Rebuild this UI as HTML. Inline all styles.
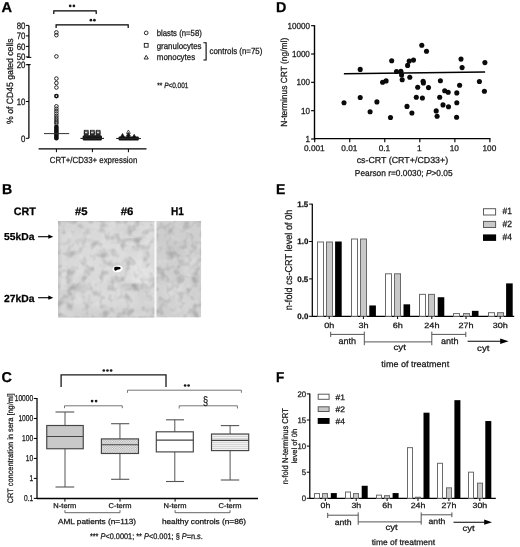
<!DOCTYPE html>
<html><head><meta charset="utf-8"><style>
html,body{margin:0;padding:0;background:#fff;width:520px;height:547px;overflow:hidden}
svg{display:block;font-family:"Liberation Sans", sans-serif;filter:blur(0.35px);text-rendering:geometricPrecision}
</style></head><body>
<svg width="520" height="547" viewBox="0 0 520 547">
<rect width="520" height="547" fill="#fff"/>
<defs>
<filter id="blur1" x="-100%" y="-100%" width="300%" height="300%"><feGaussianBlur stdDeviation="3.5"/></filter>
<filter id="blur2" x="-50%" y="-50%" width="200%" height="200%"><feGaussianBlur stdDeviation="1.2"/></filter>
<filter id="noise" x="0" y="0" width="100%" height="100%"><feTurbulence type="fractalNoise" baseFrequency="0.12" numOctaves="2" seed="7" result="n"/><feColorMatrix in="n" type="matrix" values="0 0 0 0 0  0 0 0 0 0  0 0 0 0 0  0 0 0 -0.9 0.48"/></filter>
<filter id="noise2" x="0" y="0" width="100%" height="100%"><feTurbulence type="fractalNoise" baseFrequency="0.12" numOctaves="2" seed="3" result="n"/><feColorMatrix in="n" type="matrix" values="0 0 0 0 1  0 0 0 0 1  0 0 0 0 1  0 0 0 0.9 -0.42"/></filter>
<clipPath id="cl1"><rect x="58" y="221" width="96.8" height="96.6"/></clipPath>
<clipPath id="cl2"><rect x="156.2" y="221" width="45" height="96.6"/></clipPath>
<pattern id="xh" x="101.4" y="438.9" width="2.3" height="2.3" patternUnits="userSpaceOnUse"><rect width="2.3" height="2.3" fill="#f4f4f4"/><rect width="1.15" height="1.15" fill="#aaaaaa"/><rect x="1.15" y="1.15" width="1.15" height="1.15" fill="#aaaaaa"/></pattern>
<pattern id="hl" width="4" height="2" patternUnits="userSpaceOnUse"><rect width="4" height="2" fill="#f2f2f2"/><rect width="4" height="0.8" fill="#cfcfcf"/></pattern>
</defs>
<text transform="translate(1.53,12.00) scale(1.023,1)" font-size="14.30" font-weight="bold" fill="#000" stroke="#000" stroke-width="0.25">A</text>
<text transform="translate(1.98,193.80) scale(0.986,1)" font-size="14.30" font-weight="bold" fill="#000" stroke="#000" stroke-width="0.25">B</text>
<text transform="translate(1.53,382.40) scale(1.004,1)" font-size="14.30" font-weight="bold" fill="#000" stroke="#000" stroke-width="0.25">C</text>
<text transform="translate(276.07,11.90) scale(1.001,1)" font-size="14.30" font-weight="bold" fill="#000" stroke="#000" stroke-width="0.25">D</text>
<text transform="translate(276.09,193.80) scale(0.978,1)" font-size="14.30" font-weight="bold" fill="#000" stroke="#000" stroke-width="0.25">E</text>
<text transform="translate(276.12,382.40) scale(0.946,1)" font-size="14.30" font-weight="bold" fill="#000" stroke="#000" stroke-width="0.25">F</text>
<line x1="28.9" y1="25.4" x2="28.9" y2="57.4" stroke="#000" stroke-width="1.25"/>
<line x1="28.9" y1="64.6" x2="28.9" y2="138.3" stroke="#000" stroke-width="1.25"/>
<line x1="25.9" y1="25.4" x2="28.9" y2="25.4" stroke="#000" stroke-width="1"/>
<text transform="translate(16.65,28.60) scale(0.847,1)" font-size="9.29" font-weight="normal" fill="#161616" stroke="#161616" stroke-width="0.25">80</text>
<line x1="25.9" y1="35.9" x2="28.9" y2="35.9" stroke="#000" stroke-width="1"/>
<text transform="translate(16.65,39.10) scale(0.847,1)" font-size="9.29" font-weight="normal" fill="#161616" stroke="#161616" stroke-width="0.25">70</text>
<line x1="25.9" y1="46.4" x2="28.9" y2="46.4" stroke="#000" stroke-width="1"/>
<text transform="translate(16.65,49.60) scale(0.847,1)" font-size="9.29" font-weight="normal" fill="#161616" stroke="#161616" stroke-width="0.25">60</text>
<line x1="25.9" y1="56.9" x2="28.9" y2="56.9" stroke="#000" stroke-width="1"/>
<text transform="translate(16.65,60.10) scale(0.847,1)" font-size="9.29" font-weight="normal" fill="#161616" stroke="#161616" stroke-width="0.25">50</text>
<line x1="25.9" y1="64.7" x2="28.9" y2="64.7" stroke="#000" stroke-width="1"/>
<text transform="translate(16.65,67.90) scale(0.847,1)" font-size="9.29" font-weight="normal" fill="#161616" stroke="#161616" stroke-width="0.25">20</text>
<line x1="25.9" y1="101.5" x2="28.9" y2="101.5" stroke="#000" stroke-width="1"/>
<text transform="translate(16.65,104.70) scale(0.847,1)" font-size="9.29" font-weight="normal" fill="#161616" stroke="#161616" stroke-width="0.25">10</text>
<line x1="25.9" y1="138.3" x2="28.9" y2="138.3" stroke="#000" stroke-width="1"/>
<text transform="translate(21.01,141.50) scale(0.847,1)" font-size="9.29" font-weight="normal" fill="#161616" stroke="#161616" stroke-width="0.25">0</text>
<line x1="27.099999999999998" y1="57.4" x2="31.299999999999997" y2="57.4" stroke="#000" stroke-width="1"/>
<line x1="27.099999999999998" y1="64.6" x2="30.7" y2="64.6" stroke="#000" stroke-width="1"/>
<text transform="translate(12.90,123.90) rotate(-90) scale(0.950,1)" font-size="9.10" font-weight="normal" fill="#161616" stroke="#161616" stroke-width="0.25">% of CD45 gated cells</text>
<line x1="38.6" y1="148.85" x2="146.5" y2="148.85" stroke="#000" stroke-width="1.35"/>
<line x1="56.4" y1="149" x2="56.4" y2="152.2" stroke="#000" stroke-width="1"/>
<line x1="92.4" y1="149" x2="92.4" y2="152.2" stroke="#000" stroke-width="1"/>
<line x1="128.4" y1="149" x2="128.4" y2="152.2" stroke="#000" stroke-width="1"/>
<text transform="translate(49.71,162.90) scale(0.896,1)" font-size="8.77" font-weight="normal" fill="#161616" stroke="#161616" stroke-width="0.25">CRT+/CD33+ expression</text>
<path d="M53.8,14.0 V10.9 H96.2 V14.0" stroke="#000" stroke-width="1.2" fill="none"/>
<circle cx="70.20" cy="5.9" r="1.35" fill="#1a1a1a"/>
<circle cx="73.90" cy="5.9" r="1.35" fill="#1a1a1a"/>
<path d="M56.1,28.0 V24.9 H128.2 V28.0" stroke="#000" stroke-width="1.2" fill="none"/>
<circle cx="90.90" cy="20.2" r="1.35" fill="#1a1a1a"/>
<circle cx="94.40" cy="20.2" r="1.35" fill="#1a1a1a"/>
<circle cx="56.4" cy="32.4" r="1.8" fill="none" stroke="#1e1e1e" stroke-width="0.95"/>
<circle cx="56.4" cy="35.2" r="1.8" fill="none" stroke="#1e1e1e" stroke-width="0.95"/>
<circle cx="56.4" cy="56.4" r="1.8" fill="none" stroke="#1e1e1e" stroke-width="0.95"/>
<circle cx="56.4" cy="78.6" r="1.8" fill="none" stroke="#1e1e1e" stroke-width="0.95"/>
<circle cx="56.4" cy="83.0" r="1.8" fill="none" stroke="#1e1e1e" stroke-width="0.95"/>
<circle cx="56.4" cy="87.5" r="1.8" fill="none" stroke="#1e1e1e" stroke-width="0.95"/>
<circle cx="56.4" cy="106.3" r="1.8" fill="none" stroke="#1e1e1e" stroke-width="0.95"/>
<circle cx="56.4" cy="108.8" r="1.8" fill="none" stroke="#1e1e1e" stroke-width="0.95"/>
<circle cx="56.4" cy="111.2" r="1.8" fill="none" stroke="#1e1e1e" stroke-width="0.95"/>
<circle cx="56.4" cy="113.6" r="1.8" fill="none" stroke="#1e1e1e" stroke-width="0.95"/>
<circle cx="56.4" cy="116.0" r="1.8" fill="none" stroke="#1e1e1e" stroke-width="0.95"/>
<circle cx="56.4" cy="118.2" r="1.8" fill="none" stroke="#1e1e1e" stroke-width="0.95"/>
<circle cx="56.4" cy="120.2" r="1.8" fill="none" stroke="#1e1e1e" stroke-width="0.95"/>
<circle cx="56.4" cy="122.0" r="1.8" fill="none" stroke="#1e1e1e" stroke-width="0.95"/>
<circle cx="56.4" cy="123.6" r="1.8" fill="none" stroke="#1e1e1e" stroke-width="0.95"/>
<circle cx="56.4" cy="96.1" r="1.6" fill="none" stroke="#111" stroke-width="1.6"/>
<rect x="54.1" y="124.5" width="4.6" height="16" fill="#111" stroke="none" stroke-width="0" rx="2.2"/>
<line x1="44" y1="133.6" x2="69.2" y2="133.6" stroke="#333" stroke-width="1"/>
<rect x="84.3" y="130.3" width="3.8" height="3.6" fill="none" stroke="#1a1a1a" stroke-width="0.85"/>
<rect x="84.3" y="131.8" width="3.8" height="3.6" fill="none" stroke="#1a1a1a" stroke-width="0.85"/>
<rect x="90.39999999999999" y="130.3" width="3.8" height="3.6" fill="none" stroke="#1a1a1a" stroke-width="0.85"/>
<rect x="90.39999999999999" y="131.8" width="3.8" height="3.6" fill="none" stroke="#1a1a1a" stroke-width="0.85"/>
<rect x="96.19999999999999" y="130.3" width="3.8" height="3.6" fill="none" stroke="#1a1a1a" stroke-width="0.85"/>
<rect x="96.19999999999999" y="131.8" width="3.8" height="3.6" fill="none" stroke="#1a1a1a" stroke-width="0.85"/>
<rect x="82.6" y="135.2" width="19.4" height="5.2" fill="#161616" stroke="none" stroke-width="0" rx="1.5"/>
<rect x="84.3" y="133.6" width="3.8" height="3.0" fill="#262626" stroke="none" stroke-width="0"/>
<rect x="90.39999999999999" y="133.6" width="3.8" height="3.0" fill="#262626" stroke="none" stroke-width="0"/>
<rect x="96.19999999999999" y="133.6" width="3.8" height="3.0" fill="#262626" stroke="none" stroke-width="0"/>
<line x1="80.4" y1="138.4" x2="104.0" y2="138.4" stroke="#222" stroke-width="1.1"/>
<path d="M126.5,133.41 L128.4,129.98999999999998 L130.3,133.41 Z" fill="none" stroke="#111" stroke-width="0.7"/>
<path d="M126.5,135.91 L128.4,132.48999999999998 L130.3,135.91 Z" fill="#333" stroke="#111" stroke-width="0.7"/>
<path d="M120.2,137.67 L122.5,133.53 L124.8,137.67 Z" fill="#111" stroke="#111" stroke-width="0.7"/>
<path d="M131.89999999999998,138.47 L134.2,134.33 L136.5,138.47 Z" fill="#111" stroke="#111" stroke-width="0.7"/>
<path d="M126.10000000000001,138.26999999999998 L128.4,134.13 L130.70000000000002,138.26999999999998 Z" fill="#111" stroke="#111" stroke-width="0.7"/>
<rect x="118.6" y="136.6" width="20.2" height="3.9" fill="#121212" stroke="none" stroke-width="0" rx="1"/>
<line x1="116.2" y1="138.5" x2="140.9" y2="138.5" stroke="#222" stroke-width="1.1"/>
<circle cx="146.2" cy="32.9" r="1.85" fill="none" stroke="#1a1a1a" stroke-width="0.9"/>
<rect x="144.3" y="43.4" width="3.8" height="3.8" fill="none" stroke="#1a1a1a" stroke-width="0.9"/>
<path d="M144.1,59.0 L146.2,55.3 L148.3,59.0 Z" fill="none" stroke="#1a1a1a" stroke-width="0.9"/>
<text transform="translate(156.75,35.65) scale(0.881,1)" font-size="8.80" font-weight="normal" fill="#161616" stroke="#161616" stroke-width="0.25">blasts (n=58)</text>
<text transform="translate(156.68,48.60) scale(0.898,1)" font-size="8.80" font-weight="normal" fill="#161616" stroke="#161616" stroke-width="0.25">granulocytes</text>
<text transform="translate(156.78,59.70) scale(0.902,1)" font-size="8.80" font-weight="normal" fill="#161616" stroke="#161616" stroke-width="0.25">monocytes</text>
<path d="M203.4,42.7 H206.1 V60.0 H203.4" stroke="#000" stroke-width="1.1" fill="none"/>
<text transform="translate(209.43,53.70) scale(0.899,1)" font-size="8.80" font-weight="normal" fill="#161616" stroke="#161616" stroke-width="0.25">controls (n=75)</text>
<text transform="translate(157.30,87.70) scale(0.829,1)" font-size="7.80" font-weight="normal" fill="#161616" stroke="#161616" stroke-width="0.25">** <tspan font-style="italic">P</tspan>&lt;0.001</text>
<line x1="314.5" y1="25.2" x2="314.5" y2="139.4" stroke="#000" stroke-width="1.4"/>
<line x1="311.1" y1="139.0" x2="314.5" y2="139.0" stroke="#000" stroke-width="1.15"/>
<text transform="translate(305.47,142.10) scale(0.921,1)" font-size="8.79" font-weight="normal" fill="#161616" stroke="#161616" stroke-width="0.25">1</text>
<line x1="311.1" y1="110.67" x2="314.5" y2="110.67" stroke="#000" stroke-width="1.15"/>
<text transform="translate(300.90,113.77) scale(0.921,1)" font-size="8.79" font-weight="normal" fill="#161616" stroke="#161616" stroke-width="0.25">10</text>
<line x1="311.1" y1="82.34" x2="314.5" y2="82.34" stroke="#000" stroke-width="1.15"/>
<text transform="translate(296.41,85.44) scale(0.921,1)" font-size="8.79" font-weight="normal" fill="#161616" stroke="#161616" stroke-width="0.25">100</text>
<line x1="311.1" y1="54.010000000000005" x2="314.5" y2="54.010000000000005" stroke="#000" stroke-width="1.15"/>
<text transform="translate(291.88,57.11) scale(0.921,1)" font-size="8.79" font-weight="normal" fill="#161616" stroke="#161616" stroke-width="0.25">1000</text>
<line x1="311.1" y1="25.680000000000007" x2="314.5" y2="25.680000000000007" stroke="#000" stroke-width="1.15"/>
<text transform="translate(287.39,28.78) scale(0.921,1)" font-size="8.79" font-weight="normal" fill="#161616" stroke="#161616" stroke-width="0.25">10000</text>
<line x1="314.5" y1="138.65" x2="490.5" y2="138.65" stroke="#000" stroke-width="1.4"/>
<line x1="314.7" y1="138.7" x2="314.7" y2="142.2" stroke="#000" stroke-width="1.15"/>
<text transform="translate(303.97,150.80) scale(1.000,1)" font-size="8.29" font-weight="normal" fill="#161616" stroke="#161616" stroke-width="0.25">0.001</text>
<line x1="349.74" y1="138.7" x2="349.74" y2="142.2" stroke="#000" stroke-width="1.15"/>
<text transform="translate(341.31,150.80) scale(1.000,1)" font-size="8.29" font-weight="normal" fill="#161616" stroke="#161616" stroke-width="0.25">0.01</text>
<line x1="384.78" y1="138.7" x2="384.78" y2="142.2" stroke="#000" stroke-width="1.15"/>
<text transform="translate(378.65,150.80) scale(1.000,1)" font-size="8.29" font-weight="normal" fill="#161616" stroke="#161616" stroke-width="0.25">0.1</text>
<line x1="419.82" y1="138.7" x2="419.82" y2="142.2" stroke="#000" stroke-width="1.15"/>
<text transform="translate(417.00,150.80) scale(1.000,1)" font-size="8.29" font-weight="normal" fill="#161616" stroke="#161616" stroke-width="0.25">1</text>
<line x1="454.86" y1="138.7" x2="454.86" y2="142.2" stroke="#000" stroke-width="1.15"/>
<text transform="translate(449.70,150.80) scale(1.000,1)" font-size="8.29" font-weight="normal" fill="#161616" stroke="#161616" stroke-width="0.25">10</text>
<line x1="489.9" y1="138.7" x2="489.9" y2="142.2" stroke="#000" stroke-width="1.15"/>
<text transform="translate(482.44,150.80) scale(1.000,1)" font-size="8.29" font-weight="normal" fill="#161616" stroke="#161616" stroke-width="0.25">100</text>
<text transform="translate(287.20,126.67) rotate(-90) scale(0.952,1)" font-size="8.84" font-weight="normal" fill="#161616" stroke="#161616" stroke-width="0.25">N-terminus CRT (ng/ml)</text>
<text transform="translate(356.65,162.60) scale(1.019,1)" font-size="8.70" font-weight="normal" fill="#161616" stroke="#161616" stroke-width="0.25">cs-CRT (CRT+/CD33+)</text>
<text transform="translate(354.83,176.40) scale(0.959,1)" font-size="8.70" font-weight="normal" fill="#161616" stroke="#161616" stroke-width="0.25">Pearson r=0.0030; <tspan font-style="italic">P</tspan>&gt;0.05</text>
<line x1="343.9" y1="73.8" x2="485.1" y2="72.1" stroke="#000" stroke-width="1.5"/>
<circle cx="344.0" cy="102.7" r="2.55" fill="#0a0a0a"/>
<circle cx="360.2" cy="69.4" r="2.55" fill="#0a0a0a"/>
<circle cx="360.2" cy="97.5" r="2.55" fill="#0a0a0a"/>
<circle cx="370.1" cy="111.7" r="2.55" fill="#0a0a0a"/>
<circle cx="376.9" cy="101.9" r="2.55" fill="#0a0a0a"/>
<circle cx="382.6" cy="82.2" r="2.55" fill="#0a0a0a"/>
<circle cx="386.1" cy="80.9" r="2.55" fill="#0a0a0a"/>
<circle cx="390.5" cy="117.5" r="2.55" fill="#0a0a0a"/>
<circle cx="391.7" cy="60.8" r="2.55" fill="#0a0a0a"/>
<circle cx="396.5" cy="71.5" r="2.55" fill="#0a0a0a"/>
<circle cx="400.9" cy="71.2" r="2.55" fill="#0a0a0a"/>
<circle cx="401.6" cy="75.0" r="2.55" fill="#0a0a0a"/>
<circle cx="402.2" cy="79.7" r="2.55" fill="#0a0a0a"/>
<circle cx="407.6" cy="65.4" r="2.55" fill="#0a0a0a"/>
<circle cx="409.2" cy="61.1" r="2.55" fill="#0a0a0a"/>
<circle cx="413.5" cy="60.1" r="2.55" fill="#0a0a0a"/>
<circle cx="409.8" cy="77.3" r="2.55" fill="#0a0a0a"/>
<circle cx="421.8" cy="45.3" r="2.55" fill="#0a0a0a"/>
<circle cx="426.5" cy="51.3" r="2.55" fill="#0a0a0a"/>
<circle cx="423.1" cy="81.3" r="2.55" fill="#0a0a0a"/>
<circle cx="423.4" cy="82.9" r="2.55" fill="#0a0a0a"/>
<circle cx="417.7" cy="87.3" r="2.55" fill="#0a0a0a"/>
<circle cx="428.5" cy="87.6" r="2.55" fill="#0a0a0a"/>
<circle cx="416.3" cy="97.2" r="2.55" fill="#0a0a0a"/>
<circle cx="422.4" cy="98.0" r="2.55" fill="#0a0a0a"/>
<circle cx="407.0" cy="106.4" r="2.55" fill="#0a0a0a"/>
<circle cx="411.9" cy="113.0" r="2.55" fill="#0a0a0a"/>
<circle cx="436.2" cy="110.9" r="2.55" fill="#0a0a0a"/>
<circle cx="437.1" cy="116.3" r="2.55" fill="#0a0a0a"/>
<circle cx="439.7" cy="97.3" r="2.55" fill="#0a0a0a"/>
<circle cx="440.4" cy="80.8" r="2.55" fill="#0a0a0a"/>
<circle cx="443.0" cy="104.9" r="2.55" fill="#0a0a0a"/>
<circle cx="444.7" cy="90.7" r="2.55" fill="#0a0a0a"/>
<circle cx="448.2" cy="92.2" r="2.55" fill="#0a0a0a"/>
<circle cx="448.5" cy="106.7" r="2.55" fill="#0a0a0a"/>
<circle cx="456.8" cy="92.9" r="2.55" fill="#0a0a0a"/>
<circle cx="456.8" cy="102.7" r="2.55" fill="#0a0a0a"/>
<circle cx="456.6" cy="117.2" r="2.55" fill="#0a0a0a"/>
<circle cx="459.6" cy="85.2" r="2.55" fill="#0a0a0a"/>
<circle cx="461.0" cy="59.1" r="2.55" fill="#0a0a0a"/>
<circle cx="462.1" cy="67.6" r="2.55" fill="#0a0a0a"/>
<circle cx="479.4" cy="81.5" r="2.55" fill="#0a0a0a"/>
<circle cx="484.4" cy="91.3" r="2.55" fill="#0a0a0a"/>
<circle cx="484.9" cy="62.6" r="2.55" fill="#0a0a0a"/>
<text transform="translate(13.77,214.70) scale(0.991,1)" font-size="10.87" font-weight="bold" fill="#000" stroke="#000" stroke-width="0.25">CRT</text>
<text transform="translate(74.93,214.80) scale(1.040,1)" font-size="10.87" font-weight="bold" fill="#000" stroke="#000" stroke-width="0.25">#5</text>
<text transform="translate(120.73,214.80) scale(1.050,1)" font-size="10.87" font-weight="bold" fill="#000" stroke="#000" stroke-width="0.25">#6</text>
<text transform="translate(170.94,214.70) scale(0.884,1)" font-size="11.45" font-weight="bold" fill="#000" stroke="#000" stroke-width="0.25">H1</text>
<text transform="translate(4.09,240.10) scale(1.025,1)" font-size="10.07" font-weight="bold" fill="#000" stroke="#000" stroke-width="0.25">55kDa</text>
<text transform="translate(4.04,301.50) scale(1.000,1)" font-size="10.34" font-weight="bold" fill="#000" stroke="#000" stroke-width="0.25">27kDa</text>
<line x1="38.1" y1="236.7" x2="50.0" y2="236.7" stroke="#000" stroke-width="1.1"/>
<path d="M48.3,234.6 L53.3,236.7 L48.3,238.79999999999998 Z" fill="#000"/>
<line x1="38.1" y1="297.7" x2="50.0" y2="297.7" stroke="#000" stroke-width="1.1"/>
<path d="M48.3,295.59999999999997 L53.3,297.7 L48.3,299.8 Z" fill="#000"/>
<g clip-path="url(#cl1)">
<rect x="58" y="221" width="96.8" height="96.6" fill="#d9d9d9" stroke="none" stroke-width="0"/>
<ellipse cx="140" cy="272" rx="10" ry="14" fill="#e4e4e4" filter="url(#blur1)"/>
<ellipse cx="112" cy="252" rx="14" ry="10" fill="#dddddd" filter="url(#blur1)"/>
<ellipse cx="100" cy="300" rx="18" ry="10" fill="#dadada" filter="url(#blur1)"/>
<ellipse cx="92" cy="262" rx="10" ry="14" fill="#dbdbdb" filter="url(#blur1)"/>
<ellipse cx="66" cy="300" rx="6" ry="16" fill="#cfcfcf" filter="url(#blur1)"/>
<ellipse cx="146" cy="300" rx="8" ry="14" fill="#d2d2d2" filter="url(#blur1)"/>
<ellipse cx="105" cy="314" rx="55" ry="6" fill="#d0d0d0" filter="url(#blur1)"/>
<ellipse cx="75" cy="228" rx="14" ry="5" fill="#d2d2d2" filter="url(#blur1)"/>
<ellipse cx="125" cy="228" rx="14" ry="5" fill="#d4d4d4" filter="url(#blur1)"/>
<ellipse cx="150" cy="240" rx="5" ry="14" fill="#dedede" filter="url(#blur1)"/>
<rect x="58" y="221" width="2.2" height="96.6" fill="#c6c6c6" stroke="none" stroke-width="0" filter="url(#blur2)"/>
<rect x="58" y="221" width="96.8" height="1.2" fill="#cbcbcb" stroke="none" stroke-width="0"/>
<rect x="58" y="316.2" width="96.8" height="1.4" fill="#cbcbcb" stroke="none" stroke-width="0"/>
<ellipse cx="83.5" cy="240.2" rx="8" ry="1.8" fill="#cacaca" filter="url(#blur2)"/>
<path d="M121.8,241.2 Q130.5,237.2 139.2,241.2" stroke="#a2a2a2" stroke-width="1.5" fill="none" filter="url(#blur2)"/>
<rect x="121" y="239.5" width="22" height="11" rx="4" fill="none" stroke="#d3d3d3" stroke-width="1" filter="url(#blur2)"/>
<ellipse cx="80" cy="287.8" rx="13" ry="4.2" fill="#c9c9c9" filter="url(#blur2)"/>
<ellipse cx="78" cy="287.2" rx="7" ry="2.2" fill="#c2c2c2" filter="url(#blur2)"/>
<ellipse cx="131.5" cy="287.5" rx="12.5" ry="3.5" fill="#d0d0d0" filter="url(#blur2)"/>
<ellipse cx="131.5" cy="285.3" rx="12" ry="1.4" fill="#c0c0c0" filter="url(#blur2)"/>
<circle cx="123" cy="279.2" r="1.1" fill="#a9a9a9" filter="url(#blur2)"/>
<rect x="58" y="221" width="96.8" height="96.6" filter="url(#noise)" opacity="0.5"/>
<rect x="58" y="221" width="96.8" height="96.6" filter="url(#noise2)" opacity="0.5"/>
</g>
<g clip-path="url(#cl2)">
<rect x="156.2" y="221" width="45" height="96.6" fill="#cfcfcf" stroke="none" stroke-width="0"/>
<ellipse cx="178" cy="247" rx="8" ry="6" fill="#c6c6c6" filter="url(#blur1)"/>
<ellipse cx="175" cy="292" rx="14" ry="10" fill="#d7d7d7" filter="url(#blur1)"/>
<ellipse cx="190" cy="270" rx="8" ry="18" fill="#d3d3d3" filter="url(#blur1)"/>
<ellipse cx="165" cy="235" rx="6" ry="10" fill="#cbcbcb" filter="url(#blur1)"/>
<ellipse cx="185" cy="305" rx="10" ry="8" fill="#d6d6d6" filter="url(#blur1)"/>
<circle cx="198.5" cy="225.5" r="0.9" fill="#9a9a9a" filter="url(#blur2)"/>
<rect x="156.2" y="221" width="45" height="96.6" filter="url(#noise)" opacity="0.5"/>
<rect x="156.2" y="221" width="45" height="96.6" filter="url(#noise2)" opacity="0.5"/>
</g>
<rect x="154.6" y="221" width="1.6" height="96.6" fill="#f7f7f7" stroke="none" stroke-width="0"/>
<ellipse cx="117.6" cy="268.9" rx="5.2" ry="3.4" fill="#fff" transform="rotate(-8 117.6 268.9)"/>
<path d="M114.2,267.8 Q114.6,266.6 116.6,266.8 L119.6,266.9 Q120.9,267.2 120.6,268.5 Q120.2,269.6 118.2,269.6 L116.8,269.9 Q116.4,271.0 114.9,270.6 Q113.9,270.0 114.2,267.8 Z" fill="#000"/>
<line x1="37.0" y1="398.0" x2="37.0" y2="498.9" stroke="#000" stroke-width="1.25"/>
<line x1="33.8" y1="498.38" x2="37.0" y2="498.38" stroke="#000" stroke-width="1"/>
<text transform="translate(23.98,501.08) scale(0.780,1)" font-size="8.50" font-weight="normal" fill="#161616" stroke="#161616" stroke-width="0.25">0.1</text>
<line x1="33.8" y1="478.4" x2="37.0" y2="478.4" stroke="#000" stroke-width="1"/>
<text transform="translate(29.52,481.10) scale(0.780,1)" font-size="8.50" font-weight="normal" fill="#161616" stroke="#161616" stroke-width="0.25">1</text>
<line x1="33.8" y1="458.41999999999996" x2="37.0" y2="458.41999999999996" stroke="#000" stroke-width="1"/>
<text transform="translate(25.77,461.12) scale(0.780,1)" font-size="8.50" font-weight="normal" fill="#161616" stroke="#161616" stroke-width="0.25">10</text>
<line x1="33.8" y1="438.44" x2="37.0" y2="438.44" stroke="#000" stroke-width="1"/>
<text transform="translate(22.09,441.14) scale(0.780,1)" font-size="8.50" font-weight="normal" fill="#161616" stroke="#161616" stroke-width="0.25">100</text>
<line x1="33.8" y1="418.46" x2="37.0" y2="418.46" stroke="#000" stroke-width="1"/>
<text transform="translate(18.38,421.16) scale(0.780,1)" font-size="8.50" font-weight="normal" fill="#161616" stroke="#161616" stroke-width="0.25">1000</text>
<line x1="33.8" y1="398.47999999999996" x2="37.0" y2="398.47999999999996" stroke="#000" stroke-width="1"/>
<text transform="translate(14.70,401.18) scale(0.780,1)" font-size="8.50" font-weight="normal" fill="#161616" stroke="#161616" stroke-width="0.25">10000</text>
<line x1="37.0" y1="498.5" x2="258" y2="498.5" stroke="#000" stroke-width="1.3"/>
<line x1="64.9" y1="498.5" x2="64.9" y2="501.6" stroke="#000" stroke-width="1"/>
<text transform="translate(53.35,508.30) scale(1.082,1)" font-size="6.96" font-weight="normal" fill="#161616" stroke="#161616" stroke-width="0.25">N-term</text>
<line x1="120.0" y1="498.5" x2="120.0" y2="501.6" stroke="#000" stroke-width="1"/>
<text transform="translate(108.56,508.30) scale(1.082,1)" font-size="6.96" font-weight="normal" fill="#161616" stroke="#161616" stroke-width="0.25">C-term</text>
<line x1="175.1" y1="498.5" x2="175.1" y2="501.6" stroke="#000" stroke-width="1"/>
<text transform="translate(163.55,508.30) scale(1.082,1)" font-size="6.96" font-weight="normal" fill="#161616" stroke="#161616" stroke-width="0.25">N-term</text>
<line x1="230.0" y1="498.5" x2="230.0" y2="501.6" stroke="#000" stroke-width="1"/>
<text transform="translate(218.56,508.30) scale(1.082,1)" font-size="6.96" font-weight="normal" fill="#161616" stroke="#161616" stroke-width="0.25">C-term</text>
<path d="M64.9,510.2 V512.7 H120.0 V510.2" stroke="#555" stroke-width="0.9" fill="none"/>
<path d="M175.1,510.2 V512.7 H230.0 V510.2" stroke="#555" stroke-width="0.9" fill="none"/>
<text transform="translate(57.90,524.40) scale(1.118,1)" font-size="7.39" font-weight="normal" fill="#161616" stroke="#161616" stroke-width="0.25">AML patients (n=113)</text>
<text transform="translate(161.95,524.40) scale(1.118,1)" font-size="7.39" font-weight="normal" fill="#161616" stroke="#161616" stroke-width="0.25">healthy controls (n=86)</text>
<text transform="translate(89.89,538.60) scale(0.897,1)" font-size="8.20" font-weight="normal" fill="#161616" stroke="#161616" stroke-width="0.25">*** <tspan font-style="italic">P</tspan>&lt;0.0001; ** <tspan font-style="italic">P</tspan>&lt;0.001; § <tspan font-style="italic">P</tspan>=n.s.</text>
<text transform="translate(12.70,503.27) rotate(-90) scale(0.928,1)" font-size="7.97" font-weight="normal" fill="#161616" stroke="#161616" stroke-width="0.25">CRT concentration in sera [ng/ml]</text>
<line x1="65.0" y1="412.0" x2="65.0" y2="425.5" stroke="#555" stroke-width="1"/>
<line x1="65.0" y1="448.75" x2="65.0" y2="487.0" stroke="#555" stroke-width="1"/>
<line x1="55.5" y1="412.0" x2="74.25" y2="412.0" stroke="#555" stroke-width="1.1"/>
<line x1="55.5" y1="487.0" x2="74.25" y2="487.0" stroke="#555" stroke-width="1.1"/>
<rect x="46.75" y="425.5" width="36.5" height="23.25" fill="#c9c9c9" stroke="#444" stroke-width="1.15"/>
<line x1="46.75" y1="436.5" x2="83.25" y2="436.5" stroke="#444" stroke-width="1.15"/>
<line x1="119.95" y1="423.7" x2="119.95" y2="438.9" stroke="#555" stroke-width="1"/>
<line x1="119.95" y1="453.5" x2="119.95" y2="479.3" stroke="#555" stroke-width="1"/>
<line x1="111.1" y1="423.7" x2="129.3" y2="423.7" stroke="#555" stroke-width="1.1"/>
<line x1="111.1" y1="479.3" x2="129.3" y2="479.3" stroke="#555" stroke-width="1.1"/>
<rect x="101.4" y="438.9" width="37.099999999999994" height="14.600000000000023" fill="url(#xh)" stroke="#444" stroke-width="1.15"/>
<line x1="101.4" y1="444.7" x2="138.5" y2="444.7" stroke="#444" stroke-width="1.15"/>
<line x1="174.8" y1="419.8" x2="174.8" y2="431.8" stroke="#555" stroke-width="1"/>
<line x1="174.8" y1="451.9" x2="174.8" y2="481.5" stroke="#555" stroke-width="1"/>
<line x1="166.0" y1="419.8" x2="184.0" y2="419.8" stroke="#555" stroke-width="1.1"/>
<line x1="166.0" y1="481.5" x2="184.0" y2="481.5" stroke="#555" stroke-width="1.1"/>
<rect x="156.3" y="431.8" width="37.0" height="20.099999999999966" fill="#fff" stroke="#444" stroke-width="1.15"/>
<line x1="156.3" y1="440.1" x2="193.3" y2="440.1" stroke="#444" stroke-width="1.15"/>
<line x1="230.1" y1="425.6" x2="230.1" y2="434.0" stroke="#555" stroke-width="1"/>
<line x1="230.1" y1="450.6" x2="230.1" y2="480.0" stroke="#555" stroke-width="1"/>
<line x1="220.8" y1="425.6" x2="239.2" y2="425.6" stroke="#555" stroke-width="1.1"/>
<line x1="220.8" y1="480.0" x2="239.2" y2="480.0" stroke="#555" stroke-width="1.1"/>
<rect x="211.5" y="434.0" width="37.19999999999999" height="16.600000000000023" fill="url(#hl)" stroke="#444" stroke-width="1.15"/>
<line x1="211.5" y1="440.4" x2="248.7" y2="440.4" stroke="#444" stroke-width="1.15"/>
<path d="M61.1,386.9 V374.8 H166 V386.9" stroke="#1a1a1a" stroke-width="1.3" fill="none"/>
<circle cx="103.80" cy="370.5" r="1.35" fill="#1a1a1a"/>
<circle cx="107.45" cy="370.5" r="1.35" fill="#1a1a1a"/>
<circle cx="111.10" cy="370.5" r="1.35" fill="#1a1a1a"/>
<path d="M127.5,392.8 V390.2 H241.4 V392.8" stroke="#666" stroke-width="0.9" fill="none"/>
<circle cx="185.10" cy="385.5" r="1.35" fill="#1a1a1a"/>
<circle cx="188.60" cy="385.5" r="1.35" fill="#1a1a1a"/>
<path d="M64.5,408.2 V405.8 H122.3 V408.2" stroke="#666" stroke-width="0.9" fill="none"/>
<circle cx="92.10" cy="401.1" r="1.35" fill="#1a1a1a"/>
<circle cx="96.10" cy="401.1" r="1.35" fill="#1a1a1a"/>
<path d="M179.2,408.5 V405.8 H237.4 V408.5" stroke="#666" stroke-width="0.9" fill="none"/>
<text transform="translate(202.94,404.61) scale(0.754,1)" font-size="12.22" font-weight="normal" fill="#222" stroke="#222" stroke-width="0.25">§</text>
<line x1="312.3" y1="203.8" x2="312.3" y2="316.8" stroke="#000" stroke-width="1.25"/>
<line x1="309.1" y1="316.3" x2="312.3" y2="316.3" stroke="#000" stroke-width="1"/>
<text transform="translate(297.34,319.05) scale(1.014,1)" font-size="7.86" font-weight="bold" fill="#161616" stroke="#161616" stroke-width="0.25">0.0</text>
<line x1="309.1" y1="278.90000000000003" x2="312.3" y2="278.90000000000003" stroke="#000" stroke-width="1"/>
<text transform="translate(297.22,281.65) scale(1.014,1)" font-size="7.86" font-weight="bold" fill="#161616" stroke="#161616" stroke-width="0.25">0.5</text>
<line x1="309.1" y1="241.5" x2="312.3" y2="241.5" stroke="#000" stroke-width="1"/>
<text transform="translate(297.34,244.25) scale(1.014,1)" font-size="7.86" font-weight="bold" fill="#161616" stroke="#161616" stroke-width="0.25">1.0</text>
<line x1="309.1" y1="204.10000000000002" x2="312.3" y2="204.10000000000002" stroke="#000" stroke-width="1"/>
<text transform="translate(297.22,206.85) scale(1.014,1)" font-size="7.86" font-weight="bold" fill="#161616" stroke="#161616" stroke-width="0.25">1.5</text>
<line x1="312.3" y1="316.3" x2="514.2" y2="316.3" stroke="#000" stroke-width="1.2"/>
<rect x="317.5" y="242.0" width="6.0" height="74.3" fill="#fff" stroke="#6a6a6a" stroke-width="1"/>
<rect x="326.5" y="242.0" width="6.0" height="74.3" fill="#c8c8c8" stroke="#6a6a6a" stroke-width="1"/>
<rect x="335.1" y="241.5" width="6.6" height="74.8" fill="#000" stroke="none" stroke-width="0"/>
<line x1="329.20000000000005" y1="316.3" x2="329.20000000000005" y2="319.0" stroke="#000" stroke-width="1"/>
<text transform="translate(324.29,327.50) scale(1.176,1)" font-size="7.70" font-weight="normal" fill="#161616" stroke="#161616" stroke-width="0.25">0h</text>
<rect x="351.5" y="239.008" width="6.0" height="77.292" fill="#fff" stroke="#6a6a6a" stroke-width="1"/>
<rect x="360.5" y="239.008" width="6.0" height="77.292" fill="#c8c8c8" stroke="#6a6a6a" stroke-width="1"/>
<rect x="369.3" y="305.454" width="6.6" height="10.845999999999998" fill="#000" stroke="none" stroke-width="0"/>
<line x1="363.40000000000003" y1="316.3" x2="363.40000000000003" y2="319.0" stroke="#000" stroke-width="1"/>
<text transform="translate(358.49,327.50) scale(1.176,1)" font-size="7.70" font-weight="normal" fill="#161616" stroke="#161616" stroke-width="0.25">3h</text>
<rect x="385.5" y="273.79" width="6.0" height="42.51" fill="#fff" stroke="#6a6a6a" stroke-width="1"/>
<rect x="394.5" y="273.79" width="6.0" height="42.51" fill="#c8c8c8" stroke="#6a6a6a" stroke-width="1"/>
<rect x="403.5" y="304.332" width="6.6" height="11.968" fill="#000" stroke="none" stroke-width="0"/>
<line x1="397.6" y1="316.3" x2="397.6" y2="319.0" stroke="#000" stroke-width="1"/>
<text transform="translate(392.64,327.50) scale(1.176,1)" font-size="7.70" font-weight="normal" fill="#161616" stroke="#161616" stroke-width="0.25">6h</text>
<rect x="419.5" y="294.36" width="6.0" height="21.939999999999998" fill="#fff" stroke="#6a6a6a" stroke-width="1"/>
<rect x="428.5" y="294.36" width="6.0" height="21.939999999999998" fill="#c8c8c8" stroke="#6a6a6a" stroke-width="1"/>
<rect x="437.70000000000005" y="297.226" width="6.6" height="19.073999999999998" fill="#000" stroke="none" stroke-width="0"/>
<line x1="431.80000000000007" y1="316.3" x2="431.80000000000007" y2="319.0" stroke="#000" stroke-width="1"/>
<text transform="translate(424.33,327.50) scale(1.176,1)" font-size="7.70" font-weight="normal" fill="#161616" stroke="#161616" stroke-width="0.25">24h</text>
<rect x="453.5" y="313.5836" width="6.0" height="2.7163999999999997" fill="#fff" stroke="#6a6a6a" stroke-width="1"/>
<rect x="463.5" y="313.5836" width="6.0" height="2.7163999999999997" fill="#c8c8c8" stroke="#6a6a6a" stroke-width="1"/>
<rect x="471.90000000000003" y="310.8396" width="6.6" height="5.460399999999999" fill="#000" stroke="none" stroke-width="0"/>
<line x1="466.00000000000006" y1="316.3" x2="466.00000000000006" y2="319.0" stroke="#000" stroke-width="1"/>
<text transform="translate(458.53,327.50) scale(1.176,1)" font-size="7.70" font-weight="normal" fill="#161616" stroke="#161616" stroke-width="0.25">27h</text>
<rect x="488.5" y="312.68600000000004" width="6.0" height="3.614" fill="#fff" stroke="#6a6a6a" stroke-width="1"/>
<rect x="497.5" y="312.68600000000004" width="6.0" height="3.614" fill="#c8c8c8" stroke="#6a6a6a" stroke-width="1"/>
<rect x="506.1" y="283.38800000000003" width="6.6" height="32.912" fill="#000" stroke="none" stroke-width="0"/>
<line x1="500.20000000000005" y1="316.3" x2="500.20000000000005" y2="319.0" stroke="#000" stroke-width="1"/>
<text transform="translate(492.78,327.50) scale(1.176,1)" font-size="7.70" font-weight="normal" fill="#161616" stroke="#161616" stroke-width="0.25">30h</text>
<rect x="483.5" y="208.7" width="12.1" height="6.300000000000011" fill="#fff" stroke="#5a5a5a" stroke-width="1"/>
<rect x="483.5" y="221.4" width="12.1" height="6.099999999999994" fill="#c8c8c8" stroke="#5a5a5a" stroke-width="1"/>
<rect x="483.0" y="234.4" width="13.1" height="6.5" fill="#000" stroke="none" stroke-width="0"/>
<text transform="translate(502.46,214.40) scale(0.943,1)" font-size="9.00" font-weight="normal" fill="#161616" stroke="#161616" stroke-width="0.25">#1</text>
<text transform="translate(502.46,227.30) scale(0.943,1)" font-size="9.00" font-weight="normal" fill="#161616" stroke="#161616" stroke-width="0.25">#2</text>
<text transform="translate(502.46,240.30) scale(0.943,1)" font-size="9.00" font-weight="normal" fill="#161616" stroke="#161616" stroke-width="0.25">#4</text>
<text transform="translate(291.70,310.30) rotate(-90) scale(0.925,1)" font-size="9.93" font-weight="normal" fill="#161616" stroke="#161616" stroke-width="0.25">n-fold cs-CRT level of 0h</text>
<path d="M330.7,331.8 V337 M330.7,334.4 H364.3" stroke="#555" stroke-width="1" fill="none"/>
<path d="M364.3,331.6 V345.2 M364.3,341.9 H431.8 M431.8,331.6 V345.2 M431.8,334.4 H465.8 M465.8,331.8 V337" stroke="#555" stroke-width="1" fill="none"/>
<line x1="467.6" y1="341.2" x2="502" y2="341.2" stroke="#000" stroke-width="1.1"/>
<path d="M500.2,338.5 L508.6,341.2 L500.2,343.9 Z" fill="#000"/>
<text transform="translate(338.44,344.20) scale(1.044,1)" font-size="8.69" font-weight="normal" fill="#161616" stroke="#161616" stroke-width="0.25">anth</text>
<text transform="translate(440.94,344.20) scale(1.044,1)" font-size="8.69" font-weight="normal" fill="#161616" stroke="#161616" stroke-width="0.25">anth</text>
<text transform="translate(393.41,349.60) scale(1.175,1)" font-size="8.30" font-weight="normal" fill="#161616" stroke="#161616" stroke-width="0.25">cyt</text>
<text transform="translate(477.11,351.00) scale(1.175,1)" font-size="8.30" font-weight="normal" fill="#161616" stroke="#161616" stroke-width="0.25">cyt</text>
<text transform="translate(381.36,367.30) scale(1.042,1)" font-size="8.69" font-weight="normal" fill="#161616" stroke="#161616" stroke-width="0.25">time of treatment</text>
<line x1="309.8" y1="393.4" x2="309.8" y2="498.7" stroke="#000" stroke-width="1.25"/>
<line x1="306.8" y1="498.3" x2="309.8" y2="498.3" stroke="#000" stroke-width="1"/>
<text transform="translate(301.74,501.30) scale(0.976,1)" font-size="8.00" font-weight="normal" fill="#161616" stroke="#161616" stroke-width="0.25">0</text>
<line x1="306.8" y1="472.2" x2="309.8" y2="472.2" stroke="#000" stroke-width="1"/>
<text transform="translate(301.78,475.20) scale(0.976,1)" font-size="8.00" font-weight="normal" fill="#161616" stroke="#161616" stroke-width="0.25">5</text>
<line x1="306.8" y1="446.1" x2="309.8" y2="446.1" stroke="#000" stroke-width="1"/>
<text transform="translate(297.41,449.10) scale(0.976,1)" font-size="8.00" font-weight="normal" fill="#161616" stroke="#161616" stroke-width="0.25">10</text>
<line x1="306.8" y1="420.0" x2="309.8" y2="420.0" stroke="#000" stroke-width="1"/>
<text transform="translate(297.45,423.00) scale(0.976,1)" font-size="8.00" font-weight="normal" fill="#161616" stroke="#161616" stroke-width="0.25">15</text>
<line x1="306.8" y1="393.90000000000003" x2="309.8" y2="393.90000000000003" stroke="#000" stroke-width="1"/>
<text transform="translate(297.41,396.90) scale(0.976,1)" font-size="8.00" font-weight="normal" fill="#161616" stroke="#161616" stroke-width="0.25">20</text>
<line x1="309.8" y1="498.3" x2="495.8" y2="498.3" stroke="#000" stroke-width="1.2"/>
<rect x="314.5" y="493.58" width="5.0" height="4.72" fill="#fff" stroke="#6a6a6a" stroke-width="1"/>
<rect x="322.5" y="493.58" width="5.0" height="4.72" fill="#c8c8c8" stroke="#6a6a6a" stroke-width="1"/>
<rect x="330.8" y="493.08" width="6.0" height="5.22" fill="#000" stroke="none" stroke-width="0"/>
<line x1="325.3" y1="498.3" x2="325.3" y2="501.0" stroke="#000" stroke-width="1"/>
<text transform="translate(320.50,508.20) scale(1.150,1)" font-size="7.70" font-weight="normal" fill="#161616" stroke="#161616" stroke-width="0.25">0h</text>
<rect x="345.5" y="492.014" width="5.0" height="6.286" fill="#fff" stroke="#6a6a6a" stroke-width="1"/>
<rect x="353.5" y="493.58" width="5.0" height="4.72" fill="#c8c8c8" stroke="#6a6a6a" stroke-width="1"/>
<rect x="361.7" y="485.772" width="6.0" height="12.527999999999999" fill="#000" stroke="none" stroke-width="0"/>
<line x1="356.2" y1="498.3" x2="356.2" y2="501.0" stroke="#000" stroke-width="1"/>
<text transform="translate(351.40,508.20) scale(1.150,1)" font-size="7.70" font-weight="normal" fill="#161616" stroke="#161616" stroke-width="0.25">3h</text>
<rect x="376.5" y="495.146" width="5.0" height="3.1539999999999995" fill="#fff" stroke="#6a6a6a" stroke-width="1"/>
<rect x="384.5" y="495.668" width="5.0" height="2.6319999999999997" fill="#c8c8c8" stroke="#6a6a6a" stroke-width="1"/>
<rect x="392.6" y="493.08" width="6.0" height="5.22" fill="#000" stroke="none" stroke-width="0"/>
<line x1="387.1" y1="498.3" x2="387.1" y2="501.0" stroke="#000" stroke-width="1"/>
<text transform="translate(382.25,508.20) scale(1.150,1)" font-size="7.70" font-weight="normal" fill="#161616" stroke="#161616" stroke-width="0.25">6h</text>
<rect x="407.5" y="447.644" width="5.0" height="50.656" fill="#fff" stroke="#6a6a6a" stroke-width="1"/>
<rect x="415.5" y="497.23400000000004" width="5.0" height="1.0659999999999998" fill="#c8c8c8" stroke="#6a6a6a" stroke-width="1"/>
<rect x="423.5" y="412.692" width="6.0" height="85.60799999999999" fill="#000" stroke="none" stroke-width="0"/>
<line x1="418.0" y1="498.3" x2="418.0" y2="501.0" stroke="#000" stroke-width="1"/>
<text transform="translate(410.69,508.20) scale(1.150,1)" font-size="7.70" font-weight="normal" fill="#161616" stroke="#161616" stroke-width="0.25">24h</text>
<rect x="437.5" y="463.30400000000003" width="5.0" height="34.995999999999995" fill="#fff" stroke="#6a6a6a" stroke-width="1"/>
<rect x="446.5" y="487.838" width="5.0" height="10.462" fill="#c8c8c8" stroke="#6a6a6a" stroke-width="1"/>
<rect x="454.4" y="400.164" width="6.0" height="98.136" fill="#000" stroke="none" stroke-width="0"/>
<line x1="448.9" y1="498.3" x2="448.9" y2="501.0" stroke="#000" stroke-width="1"/>
<text transform="translate(441.59,508.20) scale(1.150,1)" font-size="7.70" font-weight="normal" fill="#161616" stroke="#161616" stroke-width="0.25">27h</text>
<rect x="468.5" y="472.178" width="5.0" height="26.121999999999996" fill="#fff" stroke="#6a6a6a" stroke-width="1"/>
<rect x="477.5" y="483.14" width="5.0" height="15.16" fill="#c8c8c8" stroke="#6a6a6a" stroke-width="1"/>
<rect x="485.3" y="421.044" width="6.0" height="77.256" fill="#000" stroke="none" stroke-width="0"/>
<line x1="479.8" y1="498.3" x2="479.8" y2="501.0" stroke="#000" stroke-width="1"/>
<text transform="translate(472.54,508.20) scale(1.150,1)" font-size="7.70" font-weight="normal" fill="#161616" stroke="#161616" stroke-width="0.25">30h</text>
<rect x="318.2" y="394.2" width="10.9" height="5.100000000000023" fill="#fff" stroke="#5a5a5a" stroke-width="1"/>
<rect x="318.2" y="406.8" width="10.9" height="4.699999999999989" fill="#c8c8c8" stroke="#5a5a5a" stroke-width="1"/>
<rect x="317.7" y="418.0" width="11.9" height="5.899999999999977" fill="#000" stroke="none" stroke-width="0"/>
<text transform="translate(335.56,399.60) scale(1.065,1)" font-size="7.97" font-weight="normal" fill="#161616" stroke="#161616" stroke-width="0.25">#1</text>
<text transform="translate(335.56,411.90) scale(1.065,1)" font-size="7.97" font-weight="normal" fill="#161616" stroke="#161616" stroke-width="0.25">#2</text>
<text transform="translate(335.56,423.70) scale(1.065,1)" font-size="7.97" font-weight="normal" fill="#161616" stroke="#161616" stroke-width="0.25">#4</text>
<text transform="translate(287.90,484.30) rotate(-90) scale(0.908,1)" font-size="8.41" font-weight="normal" fill="#161616" stroke="#161616" stroke-width="0.25">n-fold N-terminus CRT</text>
<text transform="translate(297.00,463.49) rotate(-90) scale(1.003,1)" font-size="7.59" font-weight="normal" fill="#161616" stroke="#161616" stroke-width="0.25">level of 0h</text>
<path d="M327.7,512.8 V518.0 M327.7,515.2 H358.2" stroke="#555" stroke-width="1" fill="none"/>
<path d="M358.2,512.4 V524.8 M358.2,521.9 H421.2 M421.2,512.4 V524.6 M421.2,514.8 H451.9 M451.9,512.4 V517.2" stroke="#555" stroke-width="1" fill="none"/>
<line x1="453.5" y1="522.2" x2="486" y2="522.2" stroke="#000" stroke-width="1.1"/>
<path d="M484.2,519.6 L492.0,522.2 L484.2,524.8 Z" fill="#000"/>
<text transform="translate(334.65,524.50) scale(1.080,1)" font-size="8.00" font-weight="normal" fill="#161616" stroke="#161616" stroke-width="0.25">anth</text>
<text transform="translate(428.55,524.30) scale(1.080,1)" font-size="8.00" font-weight="normal" fill="#161616" stroke="#161616" stroke-width="0.25">anth</text>
<text transform="translate(385.42,529.80) scale(1.156,1)" font-size="8.30" font-weight="normal" fill="#161616" stroke="#161616" stroke-width="0.25">cyt</text>
<text transform="translate(462.52,530.80) scale(1.156,1)" font-size="8.30" font-weight="normal" fill="#161616" stroke="#161616" stroke-width="0.25">cyt</text>
<text transform="translate(371.67,544.50) scale(1.023,1)" font-size="8.28" font-weight="normal" fill="#161616" stroke="#161616" stroke-width="0.25">time of treatment</text>
</svg>
</body></html>
